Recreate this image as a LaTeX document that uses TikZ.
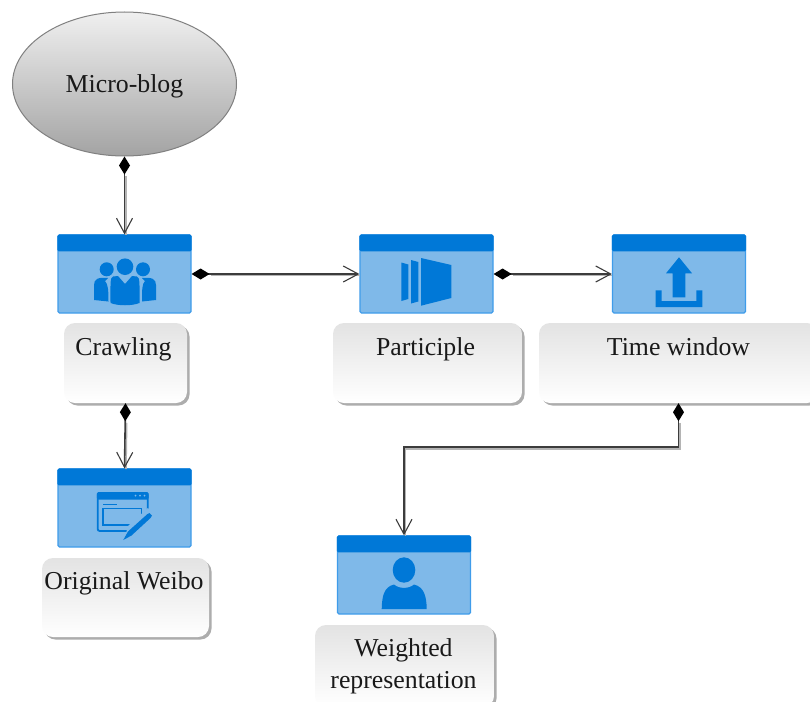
\documentclass[tikz,border=0pt]{standalone}
\usepackage{fontspec}
\setmainfont{Liberation Serif}
\usetikzlibrary{arrows.meta,shadows,calc,shapes.geometric}
\definecolor{hdrblue}{HTML}{0078D7}
\definecolor{bodyblue}{HTML}{7FB9E9}
\definecolor{edgeblue}{HTML}{3F9CEA}
\definecolor{linedark}{HTML}{3C3C3C}
\definecolor{lineshadow}{HTML}{B4B4B4}
\tikzset{
  x=1pt,y=-1pt,
  lab/.style={font=\fontsize{25.8}{32}\selectfont,text=black!90},
  iconbox/.style={draw=edgeblue,line width=1.2pt,fill=bodyblue,rounded corners=1.5pt,
    minimum width=133pt,minimum height=78pt,inner sep=0pt},
  hdr/.style={fill=hdrblue,rounded corners=1.5pt},
  ico/.style={fill=hdrblue,draw=none},
  capbox/.style={lab,rounded corners=11pt,inner sep=0pt,top color=black!11,bottom color=white,
    draw=none,drop shadow={shadow xshift=2.5pt,shadow yshift=-2.5pt,fill=black!32,opacity=1},
    text height=32pt,text depth=48pt},
  conn/.style={draw=linedark,line width=1.6pt,
    {Diamond[length=18pt,width=11pt,fill=black,black]}-{Straight Barb[length=15pt,width=16pt,line width=1.1pt,linedark]}},
  connshadow/.style={draw=lineshadow,line width=1.7pt,transform canvas={xshift=1.4pt,yshift=-1.6pt},shorten <=18pt,shorten >=1pt},
}
\begin{document}
\begin{tikzpicture}
\clip (0,0) rectangle (810,701);
\fill[white] (0,0) rectangle (810,701);

% ellipse
\node[lab,shape=ellipse,draw=black!50,line width=1pt,minimum width=224pt,minimum height=144pt,inner sep=0pt,
  top color=black!6,bottom color=black!36,text depth=0pt,text height=17pt] (blog) at (124.5,84) {Micro-blog};

% icon boxes
\node[iconbox] (crawl) at (124.5,274) {};
\node[iconbox] (part) at (426.5,274) {};
\node[iconbox] (time) at (679,274) {};
\node[iconbox] (orig) at (124.5,508) {};
\node[iconbox] (weight) at (404,575) {};
\foreach \b in {crawl,part,time,orig,weight}{
  \path[hdr] (\b.north west) -- (\b.north east) -- ($(\b.north east)+(0,17)$) -- ($(\b.north west)+(0,17)$) -- cycle;
}

% captions
\node[capbox,minimum width=123pt] (crawlcap) at (125.5,363) {Crawling\rule{4pt}{0pt}};
\node[capbox,minimum width=189pt] (partcap) at (427.5,363) {Participle\rule{4pt}{0pt}};
\node[capbox,minimum width=279pt] (timecap) at (678.5,363) {Time window};
\node[capbox,minimum width=167pt,text height=31pt,text depth=48pt] (origcap) at (125.5,597.5) {Original Weibo\rule{3pt}{0pt}};
\node[lab,rounded corners=11pt,inner sep=0pt,top color=black!11,bottom color=white,
  drop shadow={shadow xshift=2.5pt,shadow yshift=-2.5pt,fill=black!32,opacity=1},
  minimum width=179pt,minimum height=82pt,align=center] (weightcap) at (404.5,666) {Weighted\rule{2pt}{0pt}\\representation\rule{2pt}{0pt}};

% connector shadows
\draw[connshadow] (blog.south) -- (crawl.north);
\draw[connshadow] (crawl.east) -- (part.west);
\draw[connshadow] (part.east) -- (time.west);
\draw[connshadow] (crawlcap.south) -- (orig.north);
\draw[connshadow] (timecap.south) -- ++(0,44) -| (weight.north);
% connectors
\draw[conn] (blog.south) -- (crawl.north);
\draw[conn] (crawl.east) -- (part.west);
\draw[conn] (part.east) -- (time.west);
\draw[conn] (crawlcap.south) -- (orig.north);
\draw[conn] (timecap.south) -- ++(0,44) -| (weight.north);

% people icon
\fill[ico] (125,266.7) circle (8.3);
\fill[ico] (106.7,269.3) circle (7);
\fill[ico] (143,269.3) circle (7);
\fill[ico] (113,276.5) -- (118,276) -- (125,284) -- (132,276) -- (137,276.5)
  .. controls (140,278) and (139.5,282) .. (139.5,303) .. controls (132,306) and (118,306) .. (110.5,303)
  .. controls (110.5,282) and (110,278) .. (113,276.5) -- cycle;
\fill[ico] (108,278) .. controls (98,277) and (94,279) .. (94,285) -- (94,300) -- (108.5,301.5) .. controls (108.5,290) and (108,284) .. (105,281) -- cycle;
\fill[ico] (142,278) .. controls (152,277) and (156,279) .. (156,285) -- (156,300) -- (142,301.5) .. controls (142,290) and (142,284) .. (145,281) -- cycle;

% participle icon
\fill[ico] (401.3,262.5) -- (408.3,264.5) -- (408.3,299) -- (401.3,301) -- cycle;
\fill[ico] (411,260) -- (418.3,262) -- (418.3,301.5) -- (411,303.5) -- cycle;
\fill[ico] (421,258) -- (451.3,265) -- (451.3,298) -- (421,305.7) -- cycle;

% upload icon
\fill[ico] (679,257.3) -- (692,273.3) -- (685.3,273.3) -- (685.3,297.3) -- (672.7,297.3) -- (672.7,273.3) -- (666,273.3) -- cycle;
\fill[ico] (655.7,290.3) -- (661.7,290.3) -- (661.7,301) -- (696.3,301) -- (696.3,290.3) -- (702.3,290.3) -- (702.3,307) -- (655.7,307) -- cycle;

% window and pencil icon
\draw[hdrblue,line width=1.8pt,rounded corners=2pt] (147.7,516) -- (147.7,493) -- (97.7,493) -- (97.7,531) -- (128,531);
\fill[ico,rounded corners=1.5pt] (96.8,492) rectangle (148.6,499.5);
\fill[bodyblue] (135.5,495.7) circle (1) (140,495.7) circle (1) (144.5,495.7) circle (1);
\draw[hdrblue,line width=1.1pt] (103,504.3) -- (117,504.3);
\draw[hdrblue,line width=1.1pt] (103,508.5) rectangle (141.5,525);
\fill[bodyblue] (124,541) -- (128,526) -- (148,508) -- (155,516) -- (136,535) -- cycle;
\fill[ico] (123.3,540) -- (128,531.5) -- (147.5,514) -- (149.5,513) -- (152,515.5) -- (150.5,518) -- (131.5,535.5) -- cycle;

% person icon
\fill[ico] (404,570) ellipse (11.3 and 12.7);
\fill[ico] (381.7,609) .. controls (382,596) and (384,587) .. (394,584.5)
  .. controls (399,589) and (409,589) .. (414,584.5)
  .. controls (424,587) and (426.5,596) .. (426.7,609) -- cycle;
\end{tikzpicture}
\end{document}
